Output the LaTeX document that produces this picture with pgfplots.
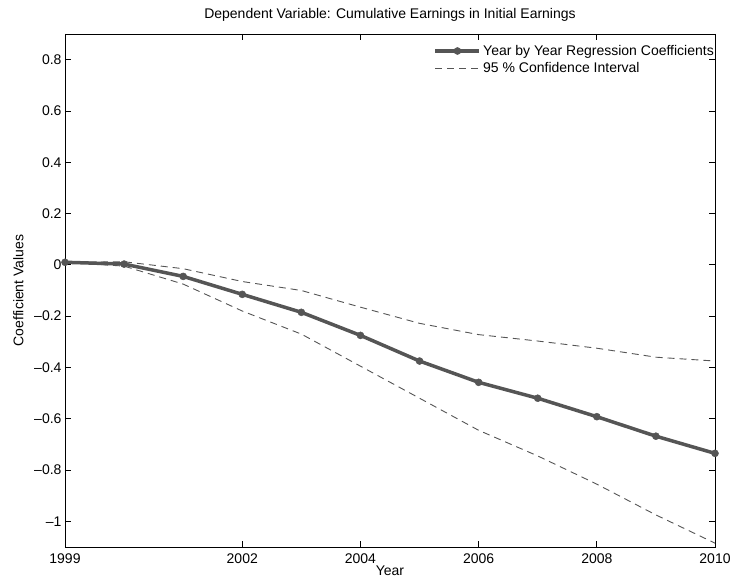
\documentclass[border=0pt]{standalone}
\usepackage{pgfplots}
\pgfplotsset{compat=1.18}
\usepackage{fontspec}
\setmainfont{Liberation Sans}
\definecolor{linegray}{RGB}{85,85,85}

\pgfplotstableread{
year  coef    upper   lower
1999  0.010   0.010   0.010
2000  0.003   0.012  -0.005
2001 -0.045  -0.015  -0.075
2002 -0.115  -0.065  -0.180
2003 -0.185  -0.100  -0.270
2004 -0.275  -0.165  -0.395
2005 -0.375  -0.228  -0.520
2006 -0.458  -0.272  -0.645
2007 -0.520  -0.297  -0.745
2008 -0.592  -0.325  -0.855
2009 -0.668  -0.360  -0.975
2010 -0.735  -0.375  -1.085
}\earnings

\begin{document}
\begin{tikzpicture}[font=\fontsize{14bp}{16bp}\selectfont]
\begin{axis}[
  scale only axis, width=650bp, height=513bp,
  xmin=1999, xmax=2010, ymin=-1.1, ymax=0.9,
  xtick={1999,2002,2004,2006,2008,2010},
  xticklabels={1999,2002,2004,2006,2008,2010},
  ytick={-1,-0.8,-0.6,-0.4,-0.2,0,0.2,0.4,0.6,0.8},
  yticklabels={\textendash1,\textendash0.8,\textendash0.6,\textendash0.4,\textendash0.2,0,0.2,0.4,0.6,0.8},
  xticklabel style={yshift=-3bp},
  tick align=inside, tick pos=both,
  major tick length=6bp,
  axis line style={line width=0.8bp},
  every tick/.style={line width=0.8bp, black},
  title={Dependent Variable: Cumulative Earnings in Initial Earnings},
  title style={yshift=3bp},
  xlabel={Year}, ylabel={Coefficient Values},
  xlabel style={yshift=4bp},
  ylabel style={yshift=4bp},
  legend style={draw=none, fill=none, at={(1,1)}, anchor=north east,
    yshift=-7bp, xshift=4bp, row sep=2bp},
  legend cell align=left,
  legend image code/.code={%
    \draw[mark repeat=2, mark phase=2, #1]
      plot coordinates {(0bp,0bp) (22bp,0bp) (44bp,0bp)};},
]
\addplot[linegray, line width=3.5bp, mark=*, mark size=3.5bp,
  mark options={fill=linegray, draw=linegray, line width=0.5bp}]
  table[x=year, y=coef] {\earnings};
\addlegendentry{Year by Year Regression Coefficients}
\addplot[linegray, line width=0.9bp, dash pattern=on 7bp off 5bp]
  table[x=year, y=upper] {\earnings};
\addlegendentry{95 \% Confidence Interval}
\addplot[linegray, line width=0.9bp, dash pattern=on 7bp off 5bp, forget plot]
  table[x=year, y=lower] {\earnings};
\end{axis}
\pgfresetboundingbox
\path[use as bounding box] (current axis.south west) ++(-65bp,-37bp) rectangle ++(734bp,584bp);
\end{tikzpicture}
\end{document}
